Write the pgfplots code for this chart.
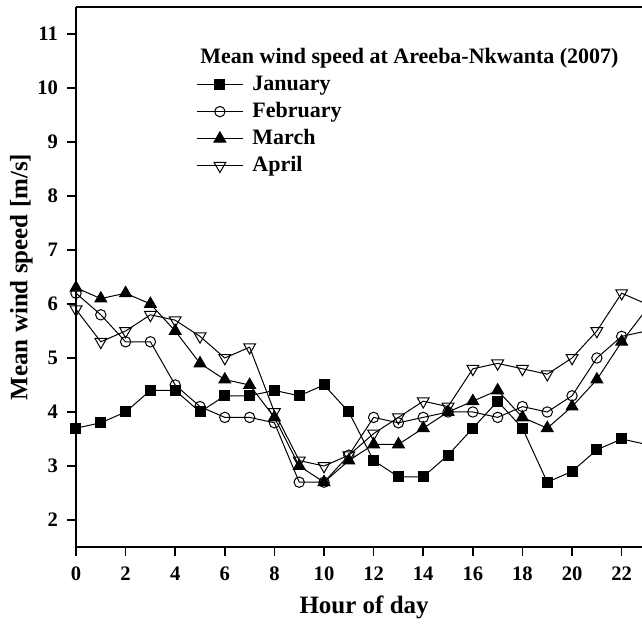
\documentclass[border=0pt]{standalone}
\usepackage{pgfplots}
\pgfplotsset{compat=1.18}
\usepackage{fontspec}
\setmainfont{Liberation Serif}
\begin{document}
\begin{tikzpicture}
\useasboundingbox (-38pt,-42pt) rectangle (283pt,273.5pt);
\begin{axis}[
  at={(0,0)}, anchor=south west,
  scale only axis, width=283pt, height=270pt,
  xmin=0, xmax=22.82, ymin=1.5, ymax=11.5,
  axis x line*=box, axis y line*=left,
  axis line style={line width=1pt},
  xtick={0,2,...,22}, ytick={2,3,...,11},
  xtick pos=bottom, ytick pos=left,
  tick align=outside, major tick length=4.5pt,
  every tick/.style={line width=0.8pt, black},
  minor tick num=0,
  /pgf/number format/assume math mode=true,
  tick label style={font=\fontsize{10.3}{12}\selectfont\bfseries},
  xticklabel style={yshift=-2pt},
  yticklabel style={xshift=-1pt},
  xlabel={Hour of day},
  ylabel={Mean wind speed [m/s]},
  xlabel style={font=\fontsize{12.5}{14}\selectfont\bfseries, at={(rel axis cs:0.509,0)}, anchor=north, yshift=-21pt},
  ylabel style={font=\fontsize{12.5}{14}\selectfont\bfseries, yshift=-4.5pt},
  legend style={draw=none, fill=none, at={(rel axis cs:0.212,0.878)}, anchor=north west,
    font=\fontsize{11}{13.5}\selectfont\bfseries, inner sep=0pt, row sep=1.4pt,
    nodes={inner sep=1.5pt}},
  legend cell align=left,
  legend image code/.code={
    \draw[mark repeat=2,mark phase=2,#1] plot coordinates {(0pt,0pt)(11.5pt,0pt)(23pt,0pt)};
  },
  /tikz/every odd column/.style={column sep=3pt},
  every axis plot/.append style={black, line width=0.5pt},
]
\addplot[mark=square*, mark size=2.5pt, mark options={solid, fill=black}] coordinates {
(0,3.7)(1,3.8)(2,4.0)(3,4.4)(4,4.4)(5,4.0)(6,4.3)(7,4.3)(8,4.4)(9,4.3)(10,4.5)(11,4.0)
(12,3.1)(13,2.8)(14,2.8)(15,3.2)(16,3.7)(17,4.2)(18,3.7)(19,2.7)(20,2.9)(21,3.3)(22,3.5)(23,3.4)};
\addlegendentry{January}
\addplot[mark=o, mark size=2.6pt, mark options={solid, fill=white}] coordinates {
(0,6.2)(1,5.8)(2,5.3)(3,5.3)(4,4.5)(5,4.1)(6,3.9)(7,3.9)(8,3.8)(9,2.7)(10,2.7)(11,3.2)
(12,3.9)(13,3.8)(14,3.9)(15,4.0)(16,4.0)(17,3.9)(18,4.1)(19,4.0)(20,4.3)(21,5.0)(22,5.4)(23,5.5)};
\addlegendentry{February}
\addplot[mark=triangle*, mark size=3.4pt, mark options={solid, fill=black}] coordinates {
(0,6.3)(1,6.1)(2,6.2)(3,6.0)(4,5.5)(5,4.9)(6,4.6)(7,4.5)(8,3.9)(9,3.0)(10,2.7)(11,3.1)
(12,3.4)(13,3.4)(14,3.7)(15,4.0)(16,4.2)(17,4.4)(18,3.9)(19,3.7)(20,4.1)(21,4.6)(22,5.3)(23,5.9)};
\addlegendentry{March}
\addplot[mark=triangle, mark size=3.4pt, mark options={solid, fill=white, rotate=180}] coordinates {
(0,5.9)(1,5.3)(2,5.5)(3,5.8)(4,5.7)(5,5.4)(6,5.0)(7,5.2)(8,4.0)(9,3.1)(10,3.0)(11,3.2)
(12,3.6)(13,3.9)(14,4.2)(15,4.1)(16,4.8)(17,4.9)(18,4.8)(19,4.7)(20,5.0)(21,5.5)(22,6.2)(23,6.0)};
\addlegendentry{April}
\node[anchor=west, font=\fontsize{11}{13}\selectfont\bfseries, inner sep=0pt] at (rel axis cs:0.219,0.906) {Mean wind speed at Areeba-Nkwanta (2007)};
\end{axis}
\end{tikzpicture}
\end{document}
